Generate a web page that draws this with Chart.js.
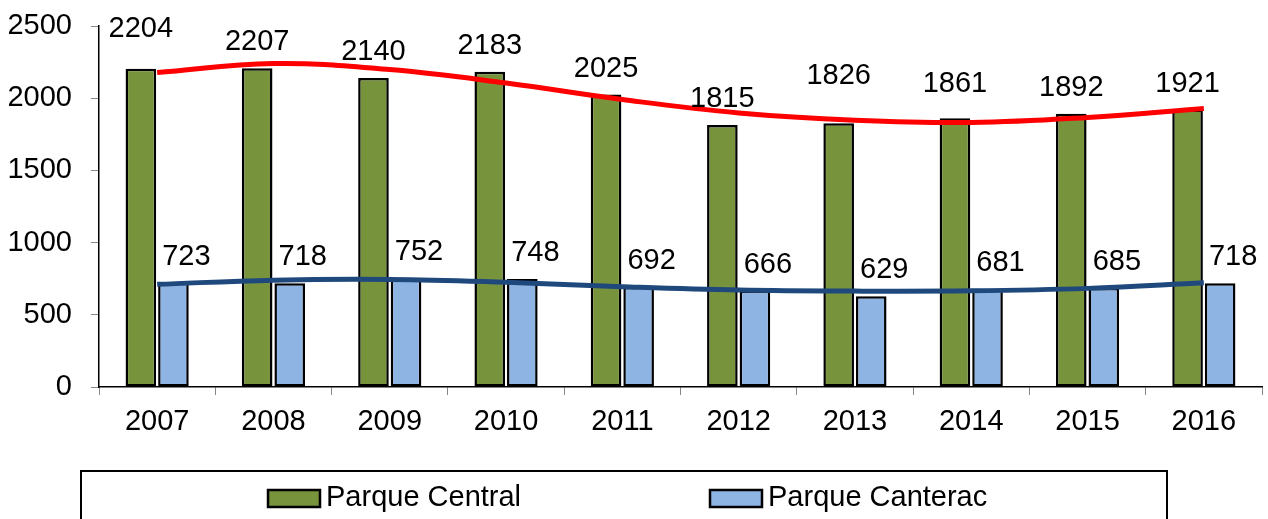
<!DOCTYPE html>
<html>
<head>
<meta charset="utf-8">
<script src="https://cdn.jsdelivr.net/npm/chart.js@4/dist/chart.umd.min.js"></script>
<style>
  html, body { margin: 0; padding: 0; background: #fff; }
  #chart { display: block; }
</style>
</head>
<body>
<canvas id="chart" width="1268" height="519"></canvas>
<script>
// Visitors per year, two parks
const years = ['2007', '2008', '2009', '2010', '2011', '2012', '2013', '2014', '2015', '2016'];
const parqueCentral = [2204, 2207, 2140, 2183, 2025, 1815, 1826, 1861, 1892, 1921];
const parqueCanterac = [723, 718, 752, 748, 692, 666, 629, 681, 685, 718];

// Trend lines (value at each year)
const centralTrend = [2178, 2240, 2198, 2105, 1991, 1898, 1848, 1832, 1867, 1929];
const canteracTrend = [711, 740, 745, 725, 694, 671, 664, 666, 683, 722];

// y axis ticks
const yTicks = [0, 500, 1000, 1500, 2000, 2500];

// a few green labels were lifted off the trend line in the original
const centralLabelLift = [14, 0, 0, 0, 0, 0, 21, 8, 0, 0];

const FONT = "'Liberation Sans', Arial, sans-serif";
const GREEN = '#77933C';
const LIGHT_BLUE = '#8EB4E3';
const RED = '#FF0000';
const NAVY = '#1F497D';

Chart.defaults.font.family = FONT;
Chart.defaults.font.size = 29;
Chart.defaults.color = '#000';

/**
 * Value labels above the bars
 */
const valueLabels = {
  id: 'valueLabels',
  afterDraw(chart) {
    const ctx = chart.ctx;
    ctx.save();
    ctx.font = `29px ${FONT}`;
    ctx.fillStyle = '#000';
    ctx.textAlign = 'center';
    ctx.textBaseline = 'middle';

    const green = chart.getDatasetMeta(0);
    green.data.forEach((bar, i) => {
      ctx.fillText(String(parqueCentral[i]), bar.x, bar.y - 26 - centralLabelLift[i]);
    });

    const blue = chart.getDatasetMeta(1);
    blue.data.forEach((bar, i) => {
      ctx.fillText(String(parqueCanterac[i]), bar.x + 13, bar.y - 26);
    });
    ctx.restore();
  },
};

/**
 * Boxed legend under the axis (Excel style)
 */
const boxedLegend = {
  id: 'boxedLegend',
  afterDraw(chart) {
    const ctx = chart.ctx;
    ctx.save();

    // frame
    ctx.strokeStyle = '#000';
    ctx.lineWidth = 2;
    ctx.strokeRect(81, 471, 1086, 80);

    const items = [
      { label: 'Parque Central', color: GREEN, x: 268 },
      { label: 'Parque Canterac', color: LIGHT_BLUE, x: 710 },
    ];
    ctx.font = `29px ${FONT}`;
    ctx.textBaseline = 'middle';
    ctx.textAlign = 'left';
    items.forEach((it) => {
      ctx.fillStyle = it.color;
      ctx.fillRect(it.x, 490, 52, 17);
      ctx.lineWidth = 2.5;
      ctx.strokeStyle = '#000';
      ctx.strokeRect(it.x, 490, 52, 17);
      ctx.fillStyle = '#000';
      ctx.fillText(it.label, it.x + 58, 498);
    });
    ctx.restore();
  },
};

const config = {
  data: {
    labels: years,
    datasets: [
      {
        type: 'bar',
        label: 'Parque Central',
        data: parqueCentral,
        backgroundColor: GREEN,
        borderColor: '#000',
        borderWidth: 2.5,
        borderSkipped: false,
        categoryPercentage: 0.56,
        barPercentage: 0.94,
        order: 2,
      },
      {
        type: 'bar',
        label: 'Parque Canterac',
        data: parqueCanterac,
        backgroundColor: LIGHT_BLUE,
        borderColor: '#000',
        borderWidth: 2.5,
        borderSkipped: false,
        categoryPercentage: 0.56,
        barPercentage: 0.94,
        order: 2,
      },
      {
        type: 'line',
        label: 'Tendencia Central',
        data: centralTrend,
        borderColor: RED,
        borderWidth: 5,
        pointRadius: 0,
        tension: 0.4,
        fill: false,
        order: 1,
      },
      {
        type: 'line',
        label: 'Tendencia Canterac',
        data: canteracTrend,
        borderColor: NAVY,
        borderWidth: 5,
        pointRadius: 0,
        tension: 0.4,
        fill: false,
        order: 1,
      },
    ],
  },
  options: {
    responsive: false,
    animation: false,
    layout: {
      padding: { top: 26, right: 6, left: 0, bottom: 0 },
    },
    plugins: {
      legend: { display: false },
      tooltip: { enabled: false },
      title: { display: false },
    },
    scales: {
      x: {
        offset: true,
        grid: {
          offset: true,
          drawOnChartArea: false,
          drawTicks: true,
          tickLength: 8,
          color: '#888',
        },
        border: { display: true, color: '#000', width: 1.5 },
        ticks: { color: '#000', padding: 10, font: { size: 29 } },
        afterFit(scale) {
          scale.height = 132;
        },
      },
      y: {
        min: yTicks[0],
        max: yTicks[yTicks.length - 1],
        grid: {
          drawOnChartArea: false,
          drawTicks: true,
          tickLength: 8,
          color: '#888',
        },
        border: { display: true, color: '#000', width: 1.5 },
        ticks: {
          stepSize: yTicks[1] - yTicks[0],
          color: '#000',
          padding: 19,
          font: { size: 29 },
          callback: (v) => String(v),
        },
        afterFit(scale) {
          scale.width = 99;
          // label padding should not push the plot down
          scale.paddingTop = 0;
        },
      },
    },
  },
  plugins: [valueLabels, boxedLegend],
};

new Chart(document.getElementById('chart'), config);
</script>
</body>
</html>
